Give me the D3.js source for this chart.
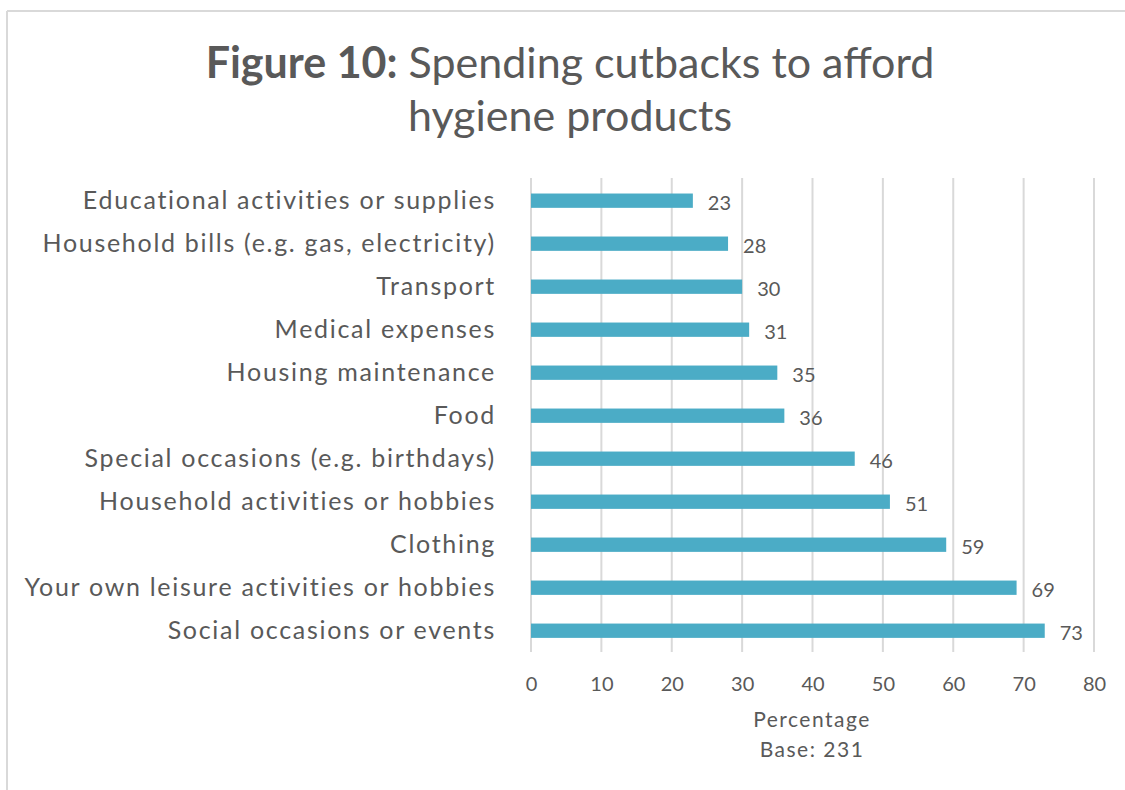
<!DOCTYPE html>
<html>
<head>
<meta charset="utf-8">
<script src="https://cdn.jsdelivr.net/npm/d3@7"></script>
<style>
  html, body { margin: 0; padding: 0; background: #fff; }
  svg { display: block; }
  text { font-family: Lato, "Open Sans", sans-serif; fill: #595959; }
</style>
</head>
<body>
<svg id="chart" width="1125" height="790"></svg>
<script>
// Survey responses: share of respondents cutting back on each spending area
const categories = [
  "Educational activities or supplies",
  "Household bills (e.g. gas, electricity)",
  "Transport",
  "Medical expenses",
  "Housing maintenance",
  "Food",
  "Special occasions (e.g. birthdays)",
  "Household activities or hobbies",
  "Clothing",
  "Your own leisure activities or hobbies",
  "Social occasions or events"
];
const values = [23, 28, 30, 31, 35, 36, 46, 51, 59, 69, 73];
const xTicks = [0, 10, 20, 30, 40, 50, 60, 70, 80];
const titleBold = "Figure 10:";
const titleRest = " Spending cutbacks to afford";
const titleLine2 = "hygiene products";
const axisTitle = "Percentage";
const baseNote = "Base: 231";

const svg = d3.select("#chart");
const barColor = "#4bacc6";
const gridColor = "#d9d9d9";

// chart frame (light border on top and left)
svg.append("line").attr("x1", 7).attr("x2", 1125).attr("y1", 11).attr("y2", 11)
  .attr("stroke", gridColor).attr("stroke-width", 2);
svg.append("line").attr("x1", 7).attr("x2", 7).attr("y1", 11).attr("y2", 790)
  .attr("stroke", gridColor).attr("stroke-width", 2);

const x = d3.scaleLinear().domain([0, 80]).range([531, 1094]);
const y = d3.scaleBand().domain(categories).range([179.2, 652.2])
  .paddingInner(0.667).paddingOuter(0.333);

// title
const title = svg.append("text").attr("x", 570).attr("y", 78)
  .attr("text-anchor", "middle").style("font-size", "43px");
title.append("tspan").style("font-weight", "bold").text(titleBold);
title.append("tspan").text(titleRest);
svg.append("text").attr("x", 570).attr("y", 131)
  .attr("text-anchor", "middle").style("font-size", "43px").text(titleLine2);

// vertical gridlines
svg.append("g").selectAll("line").data(xTicks).join("line")
  .attr("x1", d => x(d)).attr("x2", d => x(d))
  .attr("y1", 178).attr("y2", 652)
  .attr("stroke", gridColor).attr("stroke-width", 2);

// x axis tick labels
const xAxis = d3.axisBottom(x).tickValues(xTicks).tickSize(0).tickPadding(0);
const xg = svg.append("g").attr("transform", "translate(0,677)").call(xAxis);
xg.select(".domain").remove();
xg.selectAll("text").style("font-size", "20px").style("font-family", "Lato, sans-serif")
  .attr("fill", "#595959").attr("dy", "0.71em");

// y axis category labels
const yAxis = d3.axisLeft(y).tickSize(0).tickPadding(0);
const yg = svg.append("g").attr("transform", "translate(496,0)").call(yAxis);
yg.select(".domain").remove();
yg.selectAll("text").style("font-size", "25px").style("font-family", "Lato, sans-serif")
  .style("letter-spacing", "1.7px").attr("fill", "#595959");

// bars
svg.append("g").selectAll("rect").data(values).join("rect")
  .attr("x", x(0))
  .attr("y", (d, i) => y(categories[i]))
  .attr("width", d => x(d) - x(0))
  .attr("height", y.bandwidth())
  .attr("fill", barColor);

// value labels
svg.append("g").selectAll("text").data(values).join("text")
  .attr("x", d => x(d) + 15)
  .attr("y", (d, i) => y(categories[i]) + y.bandwidth() / 2 + 9)
  .style("font-size", "20px")
  .text(d => d);

// axis title and base note
svg.append("text").attr("x", 812).attr("y", 727).attr("text-anchor", "middle")
  .style("font-size", "21px").style("letter-spacing", "1.5px").text(axisTitle);
svg.append("text").attr("x", 812).attr("y", 757).attr("text-anchor", "middle")
  .style("font-size", "21px").style("letter-spacing", "1.5px").text(baseNote);
</script>
</body>
</html>
